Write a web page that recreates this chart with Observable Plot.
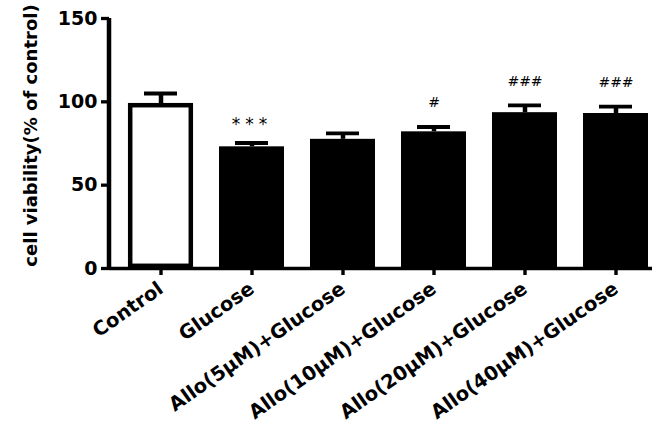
<!DOCTYPE html>
<html><head><meta charset="utf-8">
<script src="https://cdn.jsdelivr.net/npm/d3@7"></script>
<script src="https://cdn.jsdelivr.net/npm/@observablehq/plot@0.6"></script>
<style>body{margin:0;background:#fff;overflow:hidden}</style>
</head><body><div id="chart"></div>
<script>
const groups = ["Control", "Glucose", "Allo(5μM)+Glucose", "Allo(10μM)+Glucose", "Allo(20μM)+Glucose", "Allo(40μM)+Glucose"];
const means = [99, 73, 77.5, 82, 93.5, 93];
const errors = [6, 2.3, 3.6, 2.9, 4.4, 4.1];
const sigLabels = ["", "***", "", "#", "###", "###"];
const yTicks = [0, 50, 100, 150];
const yTitle = "cell viability(% of control)";

const data = groups.map((g, i) => ({group: g, mean: means[i], top: means[i] + errors[i], sig: sigLabels[i], control: i === 0}));

const yAxisLine = (index, scales, values, dimensions) => {
  const ns = "http://www.w3.org/2000/svg";
  const g = document.createElementNS(ns, "g");
  const l = document.createElementNS(ns, "line");
  const x = dimensions.marginLeft;
  l.setAttribute("x1", x); l.setAttribute("x2", x);
  l.setAttribute("y1", scales.y(0) + 1.7); l.setAttribute("y2", scales.y(150));
  l.setAttribute("stroke", "#000"); l.setAttribute("stroke-width", 4.5);
  g.appendChild(l);
  return g;
};

const chart = Plot.plot({
  width: 652, height: 425,
  marginLeft: 109, marginRight: 0, marginTop: 18, marginBottom: 157,
  style: {fontFamily: "DejaVu Sans", background: "#fff", color: "#000"},
  x: {domain: groups, range: [109, 668], paddingInner: 0.285, paddingOuter: 0.2, label: null},
  y: {domain: [0, 150], label: null},
  marks: [
    Plot.barY(data, {filter: d => d.control, x: "group", y: "mean", fill: "#fff", stroke: "#000", strokeWidth: 4.5, inset: 2.2}),
    Plot.barY(data, {filter: d => !d.control, x: "group", y: "mean", fill: "#000"}),
    Plot.ruleX(data, {x: "group", y1: "mean", y2: "top", stroke: "#000", strokeWidth: 4.5}),
    Plot.tickY(data, {x: "group", y: "top", stroke: "#000", strokeWidth: 3.8, insetLeft: 16, insetRight: 16}),
    Plot.text(data, {filter: d => d.sig === "***", x: "group", y: "top", text: "sig", dy: -18, fontSize: 17, fill: "#000"}),
    Plot.text(data, {filter: d => d.sig.startsWith("#"), x: "group", y: "top", text: "sig", dy: -24, fontSize: 14, fill: "#000"}),
    Plot.ruleY([0], {stroke: "#000", strokeWidth: 3.4}),
    yAxisLine,
    Plot.axisY({ticks: yTicks, tickSize: 8, tickPadding: 4, strokeWidth: 3.3, fontSize: 19, fontWeight: "bold", label: null}),
    Plot.axisX({tickRotate: -35, tickSize: 7, tickPadding: 11, strokeWidth: 3.4, fontSize: 19.5, fontWeight: "bold", label: null}),
    Plot.text([yTitle], {frameAnchor: "left", textAnchor: "middle", rotate: -90, dx: -78, dy: -8, fontSize: 18, fontWeight: "bold", fill: "#000"})
  ]
});
document.getElementById("chart").appendChild(chart);
chart.querySelectorAll("text").forEach(t => {
  if (t.textContent === "***") t.setAttribute("letter-spacing", "5");
});
</script>
</body></html>
